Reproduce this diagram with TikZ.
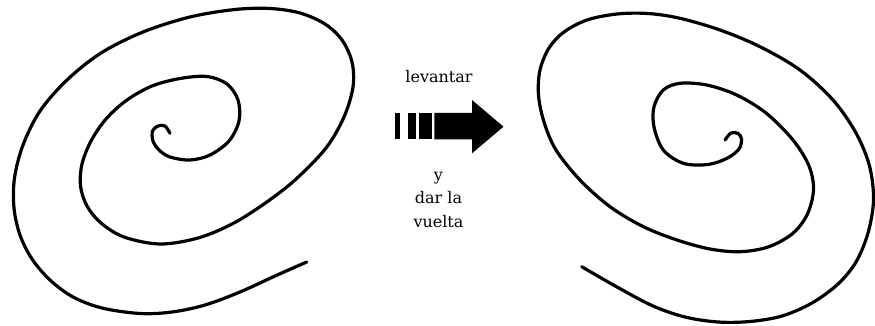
\documentclass[tikz,border=0pt]{standalone}
\usepackage{fontspec}
\setmainfont{DejaVu Serif}
\usetikzlibrary{positioning}

\begin{document}
\begin{tikzpicture}[x=1pt, y=-1pt,
  spiral/.style={line width=3.2pt, line cap=round, line join=round, smooth, tension=0.55},
  lbl/.style={font=\fontsize{16}{23.5}\selectfont, inner sep=0pt, align=center}]
\useasboundingbox (0,0) rectangle (875,326);
% spiral before
\draw[spiral] plot coordinates {(170,133.3) (165,126) (158,126) (152.5,131) (153,141) (159,150)
  (170,157) (190,160) (210,155) (229,141) (239,121) (238,100) (227,84) (207,76.5)
  (180,78.5) (152,86) (127,100) (106,119) (91,141) (82,164) (80.5,186) (87,206)
  (101,223) (124,237) (160,244) (198,238) (232,224) (264,204) (295,180)
  (326,148) (344,117) (353,87) (352,62) (342,40) (325,24) (300,13) (270,8.5)
  (235,9.5) (190,17) (143,32) (101,53) (67,80) (40,111) (23,145) (14.5,178)
  (14,208) (20,235) (32,259) (50,280) (73,297) (102,308) (140,313.5) (172,312)
  (205,305) (240,292) (275,276) (306.7,262)};
% spiral after
\draw[spiral] plot coordinates {(725,140) (731,133) (738,133.5) (741.5,139) (739,149)
  (727,158.3) (708,164.5) (683.3,163.3) (663.3,150) (654,127) (654,106.7) (663.3,90)
  (680,83.3) (706.7,85) (736.7,95) (766,113) (793,140) (809,166) (813.5,190)
  (807,215) (792,234) (768,247) (740,251.7) (710,249) (677,240)
  (643,226.5) (610,206.7) (580,180) (556,150) (544,122) (538.5,95) (540,70)
  (549,48) (564,32) (587,20) (617,14) (648,13.5) (680,18.3) (720,30)
  (760,46.7) (800,70) (833,100) (856,133) (869.5,166) (873.5,200) (868,233)
  (856,262) (838,284) (812,303) (782,316) (750,321.5) (718,322) (685,317)
  (653,306) (617,287) (581.7,266.7)};
% arrow
\foreach \a/\b in {395/399.5, 407.7/415.7, 419.3/431.7}
  \fill (\a,113) rectangle (\b,139.5);
\fill (434.3,113) -- (472,113) -- (472,100) -- (503.5,126.7) -- (472,153.3)
  -- (472,139.5) -- (434.3,139.5) -- cycle;
\node[lbl, anchor=base] (lev) at (439,83) {levantar};
\node[lbl, anchor=north] (dar) at (438.5,171.7) {y\\dar la\\vuelta};
\end{tikzpicture}
\end{document}
